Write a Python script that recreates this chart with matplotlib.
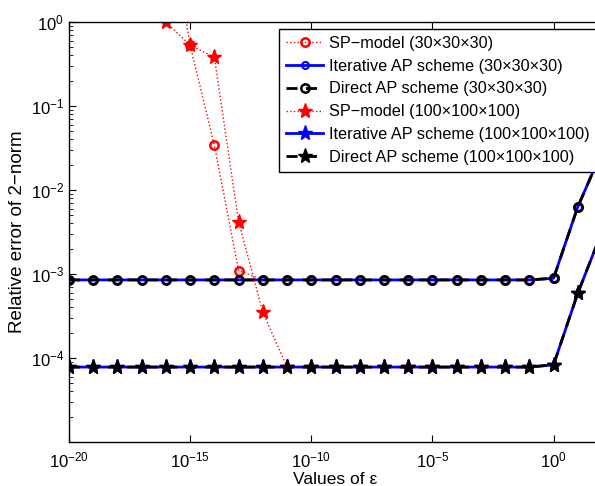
import numpy as np
import matplotlib
matplotlib.use('Agg')
import matplotlib.pyplot as plt
from matplotlib.ticker import LogLocator, NullLocator, NullFormatter

plt.rcParams['font.family'] = ['Liberation Sans', 'DejaVu Sans']
plt.rcParams['mathtext.fontset'] = 'custom'
plt.rcParams['mathtext.rm'] = 'Liberation Sans'
plt.rcParams['mathtext.it'] = 'Liberation Sans:italic'
plt.rcParams['axes.unicode_minus'] = True

# values of epsilon (10^-20 ... 10^2)
eps = [1e-20, 1e-19, 1e-18, 1e-17, 1e-16, 1e-15, 1e-14, 1e-13, 1e-12, 1e-11,
       1e-10, 1e-9, 1e-8, 1e-7, 1e-6, 1e-5, 1e-4, 1e-3, 1e-2, 1e-1,
       1e0, 1e1, 1e2]

# SP-model, curves start at 1e-16
eps_sp = eps[4:]
sp30 = [30.0, 0.53, 0.034, 1.1e-3, 8.5e-4, 8.5e-4, 8.5e-4, 8.5e-4, 8.5e-4, 8.5e-4,
        8.5e-4, 8.5e-4, 8.5e-4, 8.5e-4, 8.5e-4, 8.5e-4, 8.9e-4, 6.3e-3, 2.9e-2]
sp100 = [1.0, 0.53, 0.38, 4.2e-3, 3.5e-4, 7.8e-5, 7.8e-5, 7.8e-5, 7.8e-5, 7.8e-5,
         7.8e-5, 7.8e-5, 7.8e-5, 7.8e-5, 7.8e-5, 7.8e-5, 8.3e-5, 5.9e-4, 3.2e-3]

# AP schemes
iter30 = [8.5e-4, 8.5e-4, 8.5e-4, 8.5e-4, 8.5e-4, 8.5e-4, 8.5e-4, 8.5e-4, 8.5e-4, 8.5e-4,
          8.5e-4, 8.5e-4, 8.5e-4, 8.5e-4, 8.5e-4, 8.5e-4, 8.5e-4, 8.5e-4, 8.5e-4, 8.5e-4,
          8.9e-4, 6.3e-3, 2.9e-2]
direct30 = iter30
iter100 = [7.8e-5, 7.8e-5, 7.8e-5, 7.8e-5, 7.8e-5, 7.8e-5, 7.8e-5, 7.8e-5, 7.8e-5, 7.8e-5,
           7.8e-5, 7.8e-5, 7.8e-5, 7.8e-5, 7.8e-5, 7.8e-5, 7.8e-5, 7.8e-5, 7.8e-5, 7.8e-5,
           8.3e-5, 5.9e-4, 3.2e-3]
direct100 = iter100

labels = ['SP\u2212model (30\u00d730\u00d730)',
          'Iterative AP scheme (30\u00d730\u00d730)',
          'Direct AP scheme (30\u00d730\u00d730)',
          'SP\u2212model (100\u00d7100\u00d7100)',
          'Iterative AP scheme (100\u00d7100\u00d7100)',
          'Direct AP scheme (100\u00d7100\u00d7100)']

fig = plt.figure(figsize=(5.95, 4.86), dpi=100)
ax = fig.add_axes([69/595, 44/486, 533/595, 420/486])

ax.loglog(eps_sp, sp30, ':', color='red', lw=1, marker='o', ms=6, mfc='none',
          mec='red', mew=1.8, label=labels[0])
ax.loglog(eps, iter30, '-', color='blue', lw=2, marker='o', ms=5, mfc='none',
          mec='blue', mew=1.5, label=labels[1])
ax.loglog(eps, direct30, '--', color='black', lw=2, dashes=(4, 3), marker='o', ms=6,
          mfc='none', mec='black', mew=1.8, label=labels[2])
ax.loglog(eps_sp, sp100, ':', color='red', lw=1, marker='*', ms=11, mfc='red',
          mec='red', label=labels[3])
ax.loglog(eps, iter100, '-', color='blue', lw=2, marker='*', ms=11, mfc='blue',
          mec='blue', label=labels[4])
ax.loglog(eps, direct100, '--', color='black', lw=2, dashes=(4, 3), marker='*', ms=11,
          mfc='black', mec='black', label=labels[5])

ax.set_xlim(1e-20, 1e2)
ax.set_ylim(1e-5, 1)
ax.set_xticks([1e-20, 1e-15, 1e-10, 1e-5, 1e0])
ax.xaxis.set_minor_locator(NullLocator())
ax.set_yticks([1e-4, 1e-3, 1e-2, 1e-1, 1e0])
ax.yaxis.set_minor_locator(LogLocator(base=10, subs=np.arange(2, 10), numticks=20))
ax.yaxis.set_minor_formatter(NullFormatter())
ax.tick_params(which='both', direction='in', top=True, right=True, labelsize=12)
ax.tick_params(which='major', length=5, width=0.8)
ax.tick_params(which='minor', length=3, width=0.6)
ax.tick_params(axis='x', pad=6)
for s in ax.spines.values():
    s.set_linewidth(1)

ax.set_xlabel('Values of \u03b5', fontsize=12.5, labelpad=1)
ax.set_ylabel('Relative error of 2\u2212norm', fontsize=13.5, labelpad=3)

leg = ax.legend(loc='upper left', bbox_to_anchor=(279/595, 1 - 29/486),
                bbox_transform=fig.transFigure, fontsize=11.7, fancybox=False,
                framealpha=1, edgecolor='black', handlelength=2.3,
                labelspacing=0.48, borderpad=0.42, handletextpad=0.35,
                borderaxespad=0)
leg.get_frame().set_linewidth(1)

fig.savefig('out.png', dpi=100)
